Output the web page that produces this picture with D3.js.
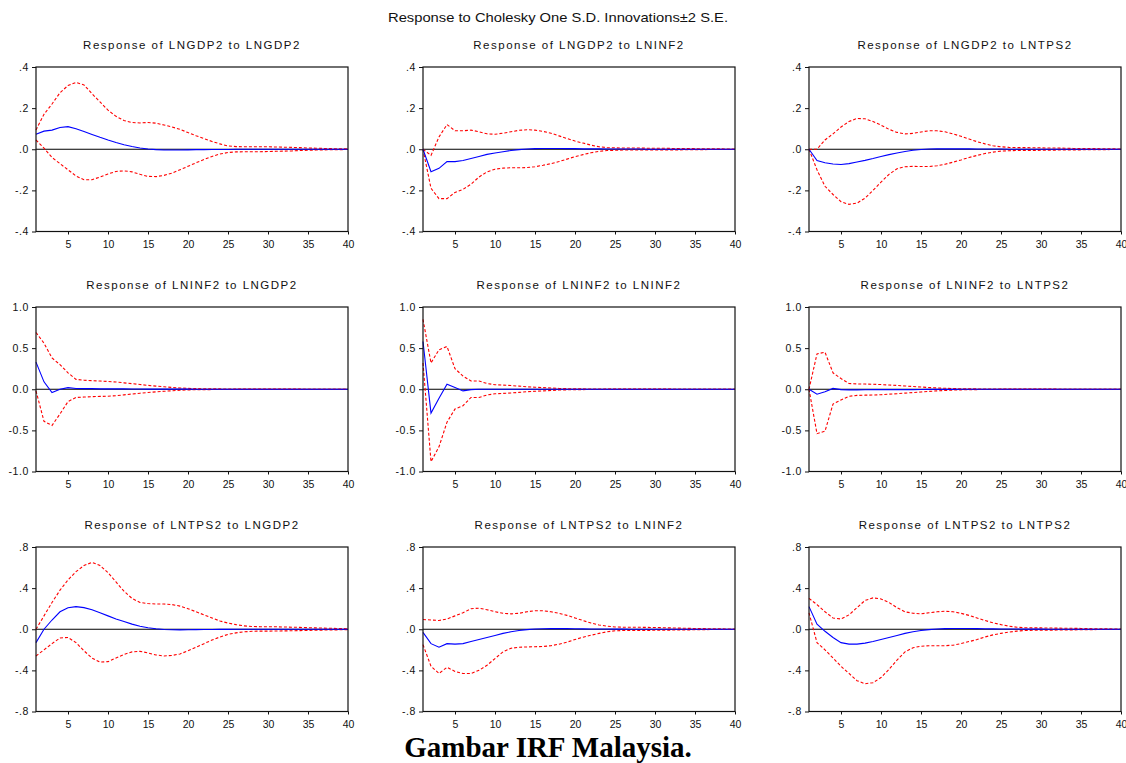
<!DOCTYPE html>
<html>
<head>
<meta charset="utf-8">
<script src="https://cdn.jsdelivr.net/npm/d3@7"></script>
<style>
  html, body { margin: 0; padding: 0; background: #fff; }
  svg { display: block; font-family: "Liberation Sans", Arial, sans-serif; }
</style>
</head>
<body>
<svg id="chart" width="1126" height="763"></svg>
<script>
// Impulse responses (Cholesky one S.D. innovations) with ±2 S.E. bands, 40 periods
const periods = d3.range(1, 41);
const xTicks = [5, 10, 15, 20, 25, 30, 35, 40];

const variables = ["LNGDP2", "LNINF2", "LNTPS2"];

// y-axis ticks per response variable (row)
const yTicksGDP = [-0.4, -0.2, 0, 0.2, 0.4];
const yTickLabelsGDP = ["-.4", "-.2", ".0", ".2", ".4"];
const yTicksINF = [-1, -0.5, 0, 0.5, 1];
const yTickLabelsINF = ["-1.0", "-0.5", "0.0", "0.5", "1.0"];
const yTicksTPS = [-0.8, -0.4, 0, 0.4, 0.8];
const yTickLabelsTPS = ["-.8", "-.4", ".0", ".4", ".8"];

// Response of LNGDP2 to LNGDP2
const gdpGdpIrf = [.073,.088,.093,.106,.110,.100,.086,.072,.058,.045,.033,.022,.013,.006,.001,-.002,-.004,-.004,-.004,-.003,-.002,-.002,-.001,-.001,-.001,0,0,0,0,0,0,0,0,0,0,0,0,0,0,0];
const gdpGdpUp = [.094,.17,.22,.275,.31,.325,.313,.27,.23,.19,.16,.14,.13,.128,.13,.127,.118,.108,.097,.081,.066,.052,.038,.026,.016,.013,.012,.012,.012,.012,.011,.010,.009,.008,.006,.005,.004,.003,.002,.002];
const gdpGdpLo = [.045,.005,-.04,-.07,-.10,-.13,-.148,-.148,-.135,-.12,-.108,-.105,-.11,-.122,-.132,-.133,-.127,-.116,-.10,-.083,-.066,-.05,-.035,-.023,-.016,-.013,-.012,-.012,-.012,-.011,-.010,-.009,-.008,-.006,-.005,-.004,-.003,-.002,-.002,-.001];

// Response of LNGDP2 to LNINF2
const gdpInfIrf = [0,-.109,-.093,-.06,-.06,-.055,-.045,-.035,-.025,-.018,-.012,-.006,-.002,.001,.003,.004,.004,.004,.003,.003,.002,.002,.002,.001,.001,.001,.001,.001,0,0,0,0,0,0,0,0,0,0,0,0];
const gdpInfUp = [0,-.03,.06,.12,.09,.09,.093,.085,.075,.073,.078,.085,.092,.095,.093,.087,.078,.065,.052,.04,.03,.02,.012,.008,.007,.006,.006,.006,.005,.005,.005,.004,.004,.003,.003,.002,.002,.002,.001,.001];
const gdpInfLo = [0,-.19,-.24,-.24,-.21,-.195,-.17,-.135,-.11,-.097,-.092,-.09,-.09,-.089,-.085,-.078,-.07,-.06,-.048,-.036,-.026,-.017,-.01,-.006,-.005,-.004,-.004,-.004,-.004,-.004,-.003,-.003,-.003,-.002,-.002,-.002,-.001,-.001,-.001,-.001];

// Response of LNGDP2 to LNTPS2
const gdpTpsIrf = [0,-.055,-.066,-.072,-.074,-.07,-.062,-.054,-.045,-.035,-.026,-.018,-.011,-.005,-.001,.001,.002,.002,.002,.002,.002,.001,.001,.001,.001,0,0,0,0,0,0,0,0,0,0,0,0,0,0,0];
const gdpTpsUp = [0,0,.045,.075,.108,.135,.15,.148,.135,.117,.097,.082,.075,.077,.084,.09,.09,.085,.075,.063,.05,.037,.026,.017,.012,.009,.008,.008,.007,.007,.006,.006,.005,.004,.004,.003,.003,.002,.002,.001];
const gdpTpsLo = [0,-.10,-.18,-.22,-.255,-.268,-.262,-.238,-.20,-.16,-.122,-.095,-.085,-.083,-.084,-.084,-.08,-.073,-.063,-.052,-.04,-.03,-.021,-.014,-.009,-.007,-.006,-.006,-.006,-.005,-.005,-.004,-.004,-.003,-.003,-.002,-.002,-.002,-.001,-.001];

// Response of LNINF2 to LNGDP2
const infGdpIrf = [.33,.09,-.04,0,.02,.01,.008,.007,.005,.005,.004,.004,.003,.003,.002,.002,.002,.001,.001,.001,0,0,0,0,0,0,0,0,0,0,0,0,0,0,0,0,0,0,0,0];
const infGdpUp = [.69,.56,.38,.30,.20,.12,.11,.105,.10,.095,.088,.078,.068,.058,.047,.038,.03,.022,.016,.011,.008,.006,.005,.004,.003,.003,.002,.002,.002,.001,.001,.001,.001,.001,0,0,0,0,0,0];
const infGdpLo = [-.02,-.39,-.44,-.30,-.15,-.10,-.095,-.09,-.087,-.085,-.078,-.068,-.058,-.048,-.04,-.032,-.025,-.018,-.012,-.008,-.006,-.005,-.004,-.003,-.003,-.002,-.002,-.002,-.001,-.001,-.001,-.001,-.001,-.001,0,0,0,0,0,0];

// Response of LNINF2 to LNINF2
const infInfIrf = [.58,-.29,-.11,.06,.02,-.02,-.005,0,0,0,0,0,0,0,0,0,0,0,0,0,0,0,0,0,0,0,0,0,0,0,0,0,0,0,0,0,0,0,0,0];
const infInfUp = [.85,.32,.48,.52,.25,.16,.10,.10,.07,.055,.05,.045,.038,.03,.025,.02,.015,.01,.007,.005,.004,.003,.003,.002,.002,.002,.001,.001,.001,.001,.001,.001,0,0,0,0,0,0,0,0];
const infInfLo = [.32,-.88,-.70,-.40,-.24,-.20,-.10,-.10,-.07,-.055,-.05,-.045,-.038,-.03,-.025,-.02,-.015,-.01,-.007,-.005,-.004,-.003,-.003,-.002,-.002,-.002,-.001,-.001,-.001,-.001,-.001,-.001,0,0,0,0,0,0,0,0];

// Response of LNINF2 to LNTPS2
const infTpsIrf = [0,-.06,-.03,.01,-.005,-.008,-.007,-.006,-.005,-.005,-.005,-.005,-.004,-.004,-.003,-.002,-.002,-.001,-.001,0,0,0,0,0,0,0,0,0,0,0,0,0,0,0,0,0,0,0,0,0];
const infTpsUp = [0,.43,.45,.20,.13,.07,.065,.063,.06,.057,.052,.046,.04,.033,.027,.021,.016,.012,.008,.006,.005,.004,.003,.003,.002,.002,.002,.001,.001,.001,.001,.001,0,0,0,0,0,0,0,0];
const infTpsLo = [0,-.54,-.51,-.18,-.13,-.085,-.075,-.072,-.07,-.066,-.06,-.054,-.047,-.04,-.033,-.026,-.02,-.015,-.01,-.007,-.005,-.004,-.003,-.003,-.002,-.002,-.002,-.001,-.001,-.001,-.001,-.001,0,0,0,0,0,0,0,0];

// Response of LNTPS2 to LNGDP2
const tpsGdpIrf = [-.13,0,.09,.17,.21,.22,.21,.19,.16,.13,.10,.075,.05,.03,.015,.005,-.002,-.005,-.006,-.005,-.004,-.003,-.002,-.001,-.001,0,0,0,0,0,0,0,0,0,0,0,0,0,0,0];
const tpsGdpUp = [0,.13,.26,.38,.48,.56,.62,.65,.62,.55,.46,.37,.30,.26,.25,.245,.245,.24,.225,.20,.17,.14,.11,.08,.06,.045,.033,.027,.025,.025,.024,.022,.02,.018,.015,.013,.011,.009,.007,.005];
const tpsGdpLo = [-.26,-.20,-.14,-.085,-.08,-.13,-.21,-.28,-.32,-.315,-.28,-.245,-.22,-.215,-.23,-.25,-.26,-.255,-.24,-.21,-.175,-.14,-.105,-.075,-.05,-.035,-.025,-.02,-.018,-.018,-.017,-.016,-.015,-.013,-.011,-.01,-.008,-.007,-.005,-.004];

// Response of LNTPS2 to LNINF2
const tpsInfIrf = [-.03,-.14,-.175,-.14,-.145,-.14,-.12,-.10,-.08,-.06,-.04,-.025,-.012,-.004,.002,.005,.006,.006,.006,.005,.004,.003,.002,.002,.001,.001,0,0,0,0,0,0,0,0,0,0,0,0,0,0];
const tpsInfUp = [.095,.09,.085,.10,.13,.16,.20,.205,.19,.17,.155,.15,.155,.17,.18,.18,.17,.155,.135,.11,.085,.06,.042,.03,.022,.02,.02,.019,.018,.017,.015,.013,.011,.009,.007,.006,.005,.004,.003,.002];
const tpsInfLo = [-.15,-.36,-.43,-.37,-.41,-.43,-.43,-.40,-.35,-.285,-.22,-.185,-.175,-.172,-.17,-.168,-.16,-.145,-.125,-.10,-.078,-.058,-.04,-.025,-.015,-.012,-.012,-.012,-.011,-.01,-.009,-.008,-.007,-.006,-.005,-.004,-.003,-.003,-.002,-.002];

// Response of LNTPS2 to LNTPS2
const tpsTpsIrf = [.22,.05,-.02,-.08,-.13,-.145,-.145,-.135,-.12,-.10,-.08,-.06,-.04,-.025,-.012,-.004,.002,.006,.008,.008,.007,.006,.005,.004,.003,.002,.002,.001,.001,.001,0,0,0,0,0,0,0,0,0,0];
const tpsTpsUp = [.30,.24,.17,.11,.10,.14,.21,.28,.305,.295,.26,.21,.17,.155,.15,.16,.17,.175,.17,.155,.135,.11,.085,.063,.045,.03,.02,.015,.013,.013,.012,.011,.01,.009,.008,.006,.005,.004,.003,.002];
const tpsTpsLo = [.16,-.13,-.20,-.28,-.36,-.43,-.50,-.53,-.52,-.47,-.39,-.30,-.22,-.18,-.165,-.16,-.16,-.16,-.155,-.14,-.12,-.10,-.075,-.055,-.04,-.028,-.018,-.012,-.01,-.01,-.009,-.008,-.007,-.006,-.005,-.004,-.003,-.003,-.002,-.002];

const rowAxes = [
  { ticks: yTicksGDP, labels: yTickLabelsGDP, domain: [-0.4, 0.4] },
  { ticks: yTicksINF, labels: yTickLabelsINF, domain: [-1, 1] },
  { ticks: yTicksTPS, labels: yTickLabelsTPS, domain: [-0.8, 0.8] }
];

const panelSeries = [
  [[gdpGdpIrf, gdpGdpUp, gdpGdpLo], [gdpInfIrf, gdpInfUp, gdpInfLo], [gdpTpsIrf, gdpTpsUp, gdpTpsLo]],
  [[infGdpIrf, infGdpUp, infGdpLo], [infInfIrf, infInfUp, infInfLo], [infTpsIrf, infTpsUp, infTpsLo]],
  [[tpsGdpIrf, tpsGdpUp, tpsGdpLo], [tpsInfIrf, tpsInfUp, tpsInfLo], [tpsTpsIrf, tpsTpsUp, tpsTpsLo]]
];

// Panel grid geometry
const colLeft = [36, 423, 809];
const rowTop = [67, 307, 547];
const plotW = 312, plotH = 164.5;

const svg = d3.select("#chart");

svg.append("text")
  .attr("x", 558).attr("y", 22)
  .attr("text-anchor", "middle")
  .attr("font-size", 13)
  .attr("textLength", 340).attr("lengthAdjust", "spacingAndGlyphs")
  .attr("fill", "#111")
  .text("Response to Cholesky One S.D. Innovations\u00B12 S.E.");

for (let r = 0; r < 3; r++) {
  for (let c = 0; c < 3; c++) {
    const g = svg.append("g").attr("transform", `translate(${colLeft[c]},${rowTop[r]})`);
    const ax = rowAxes[r];
    const x = d3.scaleLinear().domain([1, 40]).range([0, plotW]);
    const y = d3.scaleLinear().domain(ax.domain).range([plotH, 0]);

    // panel title
    g.append("text")
      .attr("x", plotW / 2).attr("y", -18)
      .attr("text-anchor", "middle")
      .attr("font-size", 11.5)
      .attr("letter-spacing", 1.5)
      .attr("fill", "#111")
      .text(`Response of ${variables[r]} to ${variables[c]}`);

    // y axis
    const yAxis = d3.axisLeft(y).tickValues(ax.ticks)
      .tickFormat((d, i) => ax.labels[i]).tickSize(4).tickPadding(3);
    const ya = g.append("g").call(yAxis);
    ya.select(".domain").remove();
    ya.selectAll("text").attr("font-size", 10.5).attr("fill", "#111")
      .attr("font-family", "'Liberation Sans', Arial, sans-serif").attr("letter-spacing", 0.6);
    ya.selectAll("line").attr("stroke", "#111");

    // x axis
    const xAxis = d3.axisBottom(x).tickValues(xTicks).tickSize(3).tickPadding(6);
    const xa = g.append("g").attr("transform", `translate(0,${plotH})`).call(xAxis);
    xa.select(".domain").remove();
    xa.selectAll("text").attr("font-size", 10.5).attr("fill", "#111")
      .attr("font-family", "'Liberation Sans', Arial, sans-serif");
    xa.selectAll("line").attr("stroke", "#111");

    // zero line
    g.append("line")
      .attr("x1", 0).attr("x2", plotW)
      .attr("y1", y(0)).attr("y2", y(0))
      .attr("stroke", "#000").attr("stroke-width", 1);

    const line = d3.line()
      .x((d, i) => x(periods[i]))
      .y(d => y(d));

    const [irf, up, lo] = panelSeries[r][c];
    [up, lo].forEach(s => {
      g.append("path").datum(s)
        .attr("d", line)
        .attr("fill", "none")
        .attr("stroke", "#ff0000")
        .attr("stroke-width", 1.1)
        .attr("stroke-dasharray", "3,2");
    });
    g.append("path").datum(irf)
      .attr("d", line)
      .attr("fill", "none")
      .attr("stroke", "#0000ff")
      .attr("stroke-width", 1.1);

    // frame
    g.append("rect")
      .attr("x", 0).attr("y", 0)
      .attr("width", plotW).attr("height", plotH)
      .attr("fill", "none")
      .attr("stroke", "#111").attr("stroke-width", 1.2);
  }
}

svg.append("text")
  .attr("x", 548).attr("y", 757)
  .attr("text-anchor", "middle")
  .attr("font-family", "'Liberation Serif', 'Times New Roman', serif")
  .attr("font-weight", "bold")
  .attr("font-size", 29)
  .attr("fill", "#000")
  .text("Gambar IRF Malaysia.");
</script>
</body>
</html>
